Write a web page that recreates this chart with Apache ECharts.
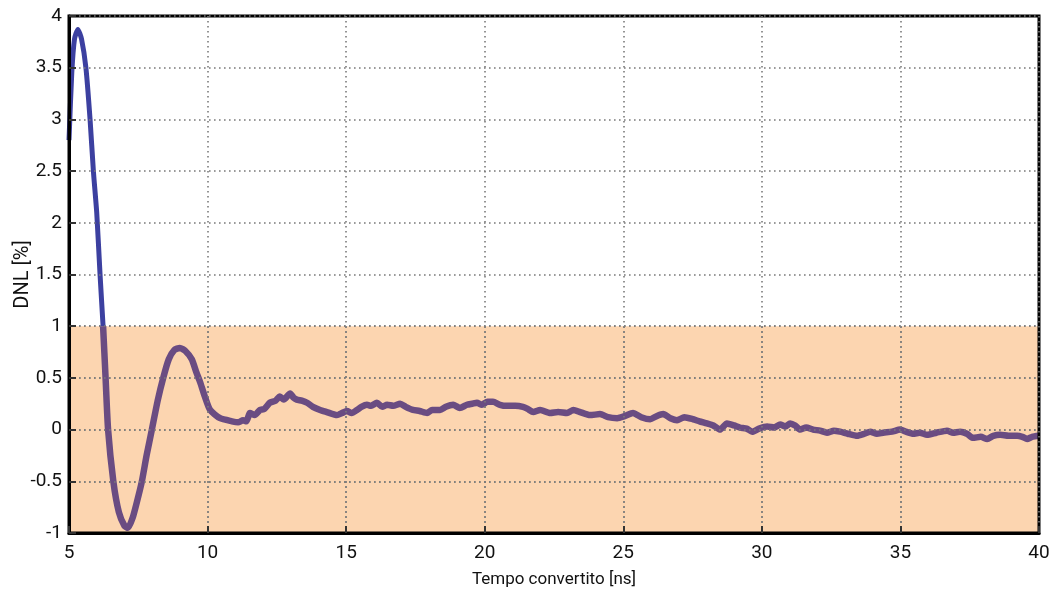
<!DOCTYPE html>
<html><head><meta charset="utf-8">
<script src="https://cdn.jsdelivr.net/npm/echarts@6/dist/echarts.min.js"></script>
<style>html,body{margin:0;padding:0;background:#fff}#c{width:1054px;height:599px}</style>
</head><body><div id="c"></div>
<script>
const xTicks = [5, 10, 15, 20, 25, 30, 35, 40];
const yTicks = [-1, -0.5, 0, 0.5, 1, 1.5, 2, 2.5, 3, 3.5, 4];
const bandRange = [-1, 1];
const timeNs = [5.0,5.1,5.2,5.32,5.45,5.61,5.76,5.88,6.0,6.12,6.23,6.32,6.41,6.6,6.8,7.0,7.13,7.3,7.45,7.63,7.8,7.99,8.2,8.4,8.6,8.8,9.0,9.2,9.43,9.6,9.73,9.9,10.09,10.45,10.88,11.1,11.28,11.4,11.53,11.7,11.89,12.05,12.25,12.45,12.61,12.75,12.98,13.1,13.22,13.4,13.59,13.8,14.06,14.3,14.67,14.85,15.03,15.2,15.39,15.55,15.75,15.9,16.11,16.3,16.48,16.7,16.95,17.15,17.41,17.65,17.92,18.1,18.39,18.6,18.86,19.1,19.36,19.55,19.72,19.9,20.1,20.3,20.55,20.8,21.1,21.38,21.55,21.75,22.0,22.36,22.65,22.97,23.2,23.44,23.8,24.16,24.45,24.78,25.05,25.35,25.65,25.97,26.2,26.44,26.7,26.94,27.2,27.52,27.75,28.02,28.25,28.49,28.74,29.0,29.21,29.45,29.65,29.9,30.19,30.45,30.66,30.85,31.02,31.2,31.38,31.6,31.85,32.1,32.35,32.6,32.82,33.1,33.44,33.7,33.91,34.15,34.38,34.7,34.99,35.2,35.46,35.7,35.96,36.3,36.68,36.9,37.15,37.4,37.62,37.9,38.13,38.35,38.6,38.9,39.21,39.4,39.57,39.75,40.0];
const dnl = [2.80,3.45,3.78,3.87,3.78,3.5,3.0,2.5,2.1,1.5,1.0,0.5,0.0,-0.5,-0.8,-0.93,-0.95,-0.85,-0.7,-0.5,-0.25,0.0,0.28,0.5,0.68,0.77,0.79,0.76,0.68,0.55,0.46,0.32,0.19,0.11,0.08,0.07,0.09,0.08,0.16,0.14,0.19,0.2,0.26,0.28,0.32,0.29,0.35,0.31,0.29,0.28,0.26,0.22,0.19,0.17,0.14,0.16,0.18,0.16,0.19,0.22,0.24,0.23,0.26,0.22,0.24,0.23,0.25,0.22,0.19,0.18,0.16,0.19,0.19,0.22,0.24,0.21,0.24,0.25,0.26,0.24,0.27,0.27,0.24,0.23,0.23,0.22,0.2,0.17,0.19,0.16,0.17,0.16,0.19,0.17,0.14,0.15,0.12,0.11,0.13,0.16,0.12,0.10,0.13,0.15,0.11,0.09,0.12,0.10,0.08,0.06,0.04,0.0,0.06,0.04,0.02,0.01,-0.02,0.01,0.03,0.02,0.05,0.03,0.06,0.04,0.0,0.02,0.0,-0.01,-0.03,-0.01,-0.02,-0.04,-0.06,-0.04,-0.02,-0.04,-0.03,-0.02,0.0,-0.02,-0.04,-0.03,-0.05,-0.03,-0.01,-0.03,-0.02,-0.04,-0.08,-0.07,-0.09,-0.06,-0.05,-0.06,-0.06,-0.07,-0.09,-0.07,-0.06];

const FONT = 'Roboto, sans-serif';
const pts = timeNs.map((t,i)=>[t, dnl[i]]);
const splitIdx = dnl.findIndex(v => v <= bandRange[1]);
const above = pts.slice(0, splitIdx + 1);
const inside = pts.slice(splitIdx);
const xMin = xTicks[0], xMax = xTicks[xTicks.length-1];

// grid lines re-drawn inside the band (from the tick arrays)
const bandGrid = [];
xTicks.filter(v => v > xMin && v < xMax).forEach(v => bandGrid.push([{coord:[v, bandRange[0]]},{coord:[v, bandRange[1]]}]));
yTicks.filter(v => v > bandRange[0] && v <= bandRange[1]).forEach(v => bandGrid.push([{coord:[xMin, v]},{coord:[xMax, v]}]));

const chart = echarts.init(document.getElementById('c'), null, {renderer:'canvas'});
const gridStyle = {color:'#7a7a7a', width:1.6, type:[1.6,3.4]};
chart.setOption({
  animation:false,
  backgroundColor:'#fff',
  grid:{left:69, right:15, top:16, bottom:66, outerBoundsMode:'none', containLabel:false,
    show:true, borderColor:'#000', borderWidth:3, backgroundColor:'transparent', z:6},
  xAxis:{type:'value', z:6, min:xMin, max:xMax, interval:5,
    name:'Tempo convertito [ns]', nameLocation:'middle', nameGap:38, nameMoveOverlap:false,
    nameTextStyle:{fontFamily:FONT, fontSize:17, color:'#111'},
    axisLine:{show:true, onZero:false, lineStyle:{color:'#000', width:3}},
    axisTick:{show:true, inside:true, length:7, lineStyle:{color:'#333', width:2}},
    axisLabel:{fontFamily:FONT, fontSize:19, color:'#111', margin:11},
    splitLine:{show:true, lineStyle:gridStyle}},
  yAxis:{type:'value', z:6, min:yTicks[0], max:yTicks[yTicks.length-1], interval:0.5,
    name:'DNL [%]', nameLocation:'middle', nameGap:36, nameMoveOverlap:false,
    nameTextStyle:{fontFamily:FONT, fontSize:20, color:'#111'},
    axisLine:{show:true, onZero:false, lineStyle:{color:'#000', width:3}},
    axisTick:{show:true, inside:true, length:7, lineStyle:{color:'#333', width:2}},
    axisLabel:{fontFamily:FONT, fontSize:19, color:'#111', margin:7},
    splitLine:{show:true, lineStyle:gridStyle}},
  series:[
    {type:'line', z:1, silent:true, showSymbol:false,
      data:[[xMin, bandRange[1]], [xMax, bandRange[1]]],
      lineStyle:{width:0, color:'#fcd5b0'},
      areaStyle:{color:'#fcd5b0', opacity:1, origin:'start'},
      markLine:{silent:true, symbol:['none','none'], z:2, label:{show:false},
        lineStyle:gridStyle, data:bandGrid}},
    {type:'line', showSymbol:false, smooth:0.2, data:above, z:3,
      lineStyle:{width:5, color:'#3c40a0'}, itemStyle:{color:'#3c40a0'}},
    {type:'line', showSymbol:false, smooth:0.2, data:inside, z:3,
      lineStyle:{width:6.5, color:'#6a4c82'}, itemStyle:{color:'#6a4c82'}}
  ]
});
</script></body></html>
